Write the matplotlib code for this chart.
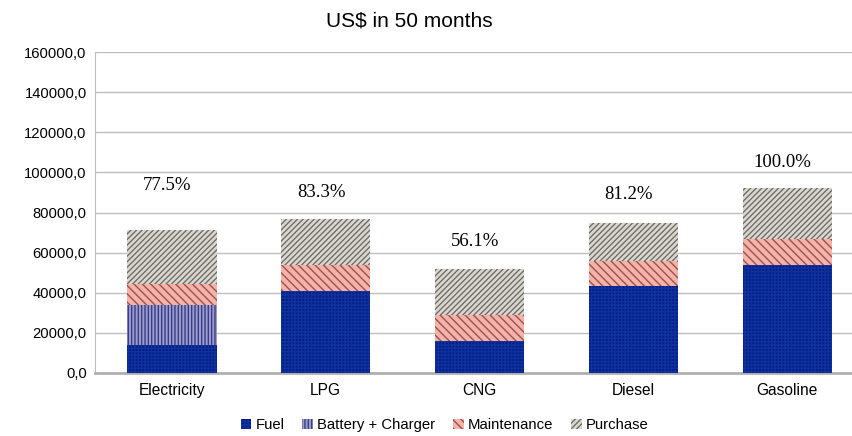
import matplotlib
matplotlib.use('Agg')
import matplotlib.pyplot as plt
import numpy as np

plt.rcParams['font.family'] = ['Liberation Sans', 'DejaVu Sans']
plt.rcParams['hatch.linewidth'] = 1.0

categories = ['Electricity', 'LPG', 'CNG', 'Diesel', 'Gasoline']
fuel = [14000, 41000, 16000, 43400, 54000]
battery = [20000, 0, 0, 0, 0]
maintenance = [10400, 12900, 12900, 12400, 12700]
purchase = [27050, 22900, 22800, 19100, 25500]
pct_labels = ['77.5%', '83.3%', '56.1%', '81.2%', '100.0%']
yticks = [0, 20000, 40000, 60000, 80000, 100000, 120000, 140000, 160000]

fig = plt.figure(figsize=(8.52, 4.36), dpi=100)
# plot area runs past the right edge of the picture
ax = fig.add_axes([0.1115, 0.1445, 0.9026, 0.736])

x = np.arange(len(categories))
w = 0.58

# segment styles: (label, face, hatch colour, hatch)
segs = [
    ('Fuel', fuel, '#001C8A', '#10329A', '+++++'),
    ('Battery + Charger', battery, '#9C9CCB', '#3A3E8C', '|||||'),
    ('Maintenance', maintenance, '#F3B2AA', '#A0504A', '\\\\\\\\'),
    ('Purchase', purchase, '#DCD8CE', '#6E6E6E', '//////'),
]

bottom = np.zeros(len(categories))
handles = []
for name, vals, face, hc, hatch in segs:
    vals = np.array(vals, dtype=float)
    b = ax.bar(x, vals, w, bottom=bottom, color=face, edgecolor=hc,
               hatch=hatch, linewidth=0, label=name, zorder=3)
    handles.append(b)
    bottom += vals

# percentage labels above the stacks
offsets = [22000, 13000, 14000, 14000, 13000]
for xi, tot, lab, off in zip(x, bottom, pct_labels, offsets):
    ax.text(xi - 0.03, tot + off, lab, ha='center', va='center',
            family=['Liberation Serif', 'DejaVu Serif'], fontsize=13.5)

ax.set_xlim(-0.5, len(categories) - 0.5)
ax.set_ylim(0, 160000)
ax.set_yticks(yticks)
ax.set_yticklabels([f'{v:.1f}'.replace('.', ',') for v in yticks], fontsize=10.6)
ax.set_xticks(x)
ax.set_xticklabels(categories, fontsize=11.2)
ax.tick_params(axis='both', length=0, pad=6)
ax.tick_params(axis='x', pad=7)

ax.grid(axis='y', color='#BEBEBE', linewidth=1, zorder=0)
for s in ['top', 'right']:
    ax.spines[s].set_visible(False)
ax.spines['left'].set_color('#BEBEBE')
ax.spines['bottom'].set_color('#B0B0B0')
ax.spines['bottom'].set_linewidth(2)

fig.text(0.48, 0.952, 'US$ in 50 months', ha='center', va='center', fontsize=15)

fig.legend(handles=handles, loc='center', bbox_to_anchor=(0.522, 0.025), ncol=4,
           frameon=False, fontsize=10.7, handlelength=0.7, handleheight=0.7,
           handletextpad=0.3, columnspacing=1.2)

fig.savefig('out.png', dpi=100)
